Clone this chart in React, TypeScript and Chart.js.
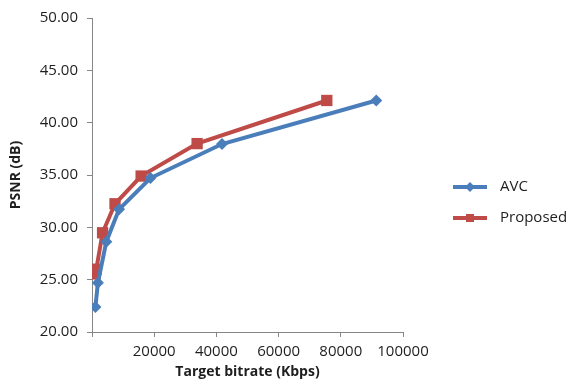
import React, { useEffect, useRef } from "react";
import { Chart, registerables } from "chart.js";

Chart.register(...registerables);

const avcBitrate = [1100, 1900, 4600, 8700, 18800, 41800, 91400];
const avcPsnr = [22.4, 24.7, 28.63, 31.72, 34.71, 37.96, 42.12];
const propBitrate = [1000, 1400, 3400, 7400, 15800, 33800, 75500];
const propPsnr = [25.55, 26.0, 29.48, 32.25, 34.9, 38.0, 42.12];
const seriesNames = ["AVC", "Proposed"];
const xTitle = "Target bitrate (Kbps)";
const yTitle = "PSNR (dB)";

const FONT = "'Open Sans', 'Liberation Sans', sans-serif";
const TEXT = "#1e1e1e";
const AXIS = "#868686";
const BLUE = "#4A7EBB";
const RED = "#BE4B48";

const legendPlugin = {
  id: "customLegend",
  afterDraw(chart: any) {
    const ctx = chart.ctx;
    const x0 = 453, x1 = 487, tx = 500;
    const ys = [187, 218];
    chart.data.datasets.forEach((ds: any, i: number) => {
      const y = ys[i];
      ctx.save();
      ctx.strokeStyle = ds.borderColor;
      ctx.lineWidth = 4;
      ctx.beginPath();
      ctx.moveTo(x0, y);
      ctx.lineTo(x1, y);
      ctx.stroke();
      ctx.fillStyle = ds.borderColor;
      const cx = (x0 + x1) / 2;
      ctx.beginPath();
      if (ds.pointStyle === "rectRot") {
        const r = 5;
        ctx.moveTo(cx - r, y);
        ctx.lineTo(cx, y - r);
        ctx.lineTo(cx + r, y);
        ctx.lineTo(cx, y + r);
        ctx.closePath();
      } else {
        ctx.rect(cx - 4, y - 4, 8, 8);
      }
      ctx.fill();
      ctx.fillStyle = TEXT;
      ctx.font = `15px ${FONT}`;
      ctx.textBaseline = "middle";
      ctx.textAlign = "left";
      ctx.fillText(ds.label, tx, y);
      ctx.restore();
    });
  },
};

export default function App() {
  const ref = useRef<HTMLCanvasElement>(null);
  useEffect(() => {
    if (!ref.current) return;
    const chart = new Chart(ref.current, {
      type: "scatter",
      data: {
        datasets: [
          {
            label: seriesNames[0],
            data: avcBitrate.map((x, i) => ({ x, y: avcPsnr[i] })),
            showLine: true,
            borderColor: BLUE,
            backgroundColor: BLUE,
            borderWidth: 4,
            pointStyle: "rectRot",
            pointRadius: 6,
            pointBorderWidth: 0,
            pointBackgroundColor: BLUE,
          },
          {
            label: seriesNames[1],
            data: propBitrate.map((x, i) => ({ x, y: propPsnr[i] })),
            showLine: true,
            borderColor: RED,
            backgroundColor: RED,
            borderWidth: 4,
            pointStyle: "rect",
            pointRadius: 8,
            pointBorderWidth: 0,
            pointBackgroundColor: RED,
          },
        ],
      },
      options: {
        responsive: false,
        animation: false,
        layout: { padding: { left: 0, top: 15, right: 173, bottom: 0 } },
        plugins: { legend: { display: false }, tooltip: { enabled: false } },
        scales: {
          x: {
            type: "linear",
            min: 0,
            max: 100000,
            afterFit: (s: any) => {
              s.height = 57;
            },
            ticks: {
              stepSize: 20000,
              color: TEXT,
              font: { family: FONT, size: 15 },
              padding: 6,
              maxRotation: 0,
              callback: (v: any) => (v === 0 ? "" : String(v)),
            },
            grid: {
              drawOnChartArea: false,
              drawTicks: true,
              tickLength: 5,
              color: AXIS,
            },
            border: { display: true, color: AXIS, width: 1 },
            title: {
              display: true,
              text: xTitle,
              color: TEXT,
              font: { family: FONT, size: 14, weight: "bold" },
              padding: { top: 0, bottom: 9 },
            },
          },
          y: {
            type: "linear",
            min: 20,
            max: 50,
            afterFit: (s: any) => {
              s.width = 92;
            },
            ticks: {
              stepSize: 5,
              color: TEXT,
              font: { family: FONT, size: 15 },
              padding: 9,
              callback: (v: any) => Number(v).toFixed(2),
            },
            grid: {
              drawOnChartArea: false,
              drawTicks: true,
              tickLength: 5,
              color: AXIS,
            },
            border: { display: true, color: AXIS, width: 1 },
            title: {
              display: true,
              text: yTitle,
              color: TEXT,
              font: { family: FONT, size: 14, weight: "bold" },
              padding: { top: 8, bottom: 0 },
            },
          },
        },
      },
      plugins: [legendPlugin],
    });
    return () => chart.destroy();
  }, []);
  return (
    <div style={{ position: "fixed", left: 0, top: 0, width: 576, height: 389, background: "#fff" }}>
      <canvas ref={ref} width={576} height={389} style={{ display: "block" }} />
    </div>
  );
}
